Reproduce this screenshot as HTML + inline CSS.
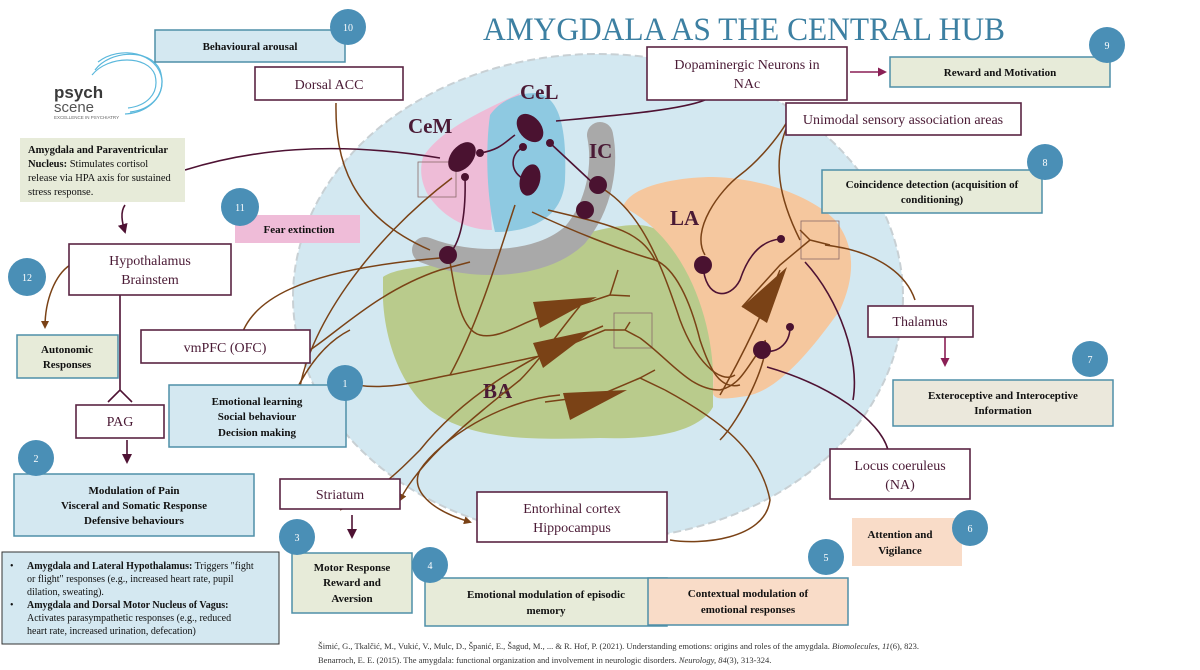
<!DOCTYPE html>
<html><head><meta charset="utf-8"><style>
html,body{margin:0;padding:0;background:#fff;}
svg{display:block;font-family:"Liberation Serif",serif;}
.nb{fill:#fff;stroke:#5a2443;stroke-width:1.6}
.nt{fill:#4a1a35;font-size:14px;text-anchor:middle}
.tb{fill:#d4e8f1;stroke:#4f8fa8;stroke-width:1.5}
.gb{fill:#e7ebd9;stroke:#4f8fa8;stroke-width:1.5}
.bt{fill:#111;font-size:11px;font-weight:bold;text-anchor:middle}
.cc{fill:#4a8fb6}
.ct{fill:#fff;font-size:10px;text-anchor:middle}
.br{fill:none;stroke:#7a4216;stroke-width:1.5}
.mr{fill:none;stroke:#4e1233;stroke-width:1.6}
.dk{fill:#4a1230}
.lb{fill:#4a1a35;font-size:21px;font-weight:bold}
</style></head><body>
<svg width="1200" height="670" viewBox="0 0 1200 670" xmlns="http://www.w3.org/2000/svg">
<defs>
<marker id="ab" markerWidth="8" markerHeight="8" refX="6" refY="4" orient="auto" markerUnits="userSpaceOnUse"><path d="M0,0 L8,4 L0,8 Z" fill="#7a4216"/></marker>
<marker id="am" markerWidth="10" markerHeight="10" refX="8" refY="5" orient="auto" markerUnits="userSpaceOnUse"><path d="M0,0 L10,5 L0,10 Z" fill="#4e1233"/></marker>
<marker id="ap" markerWidth="9" markerHeight="9" refX="7" refY="4.5" orient="auto" markerUnits="userSpaceOnUse"><path d="M0,0 L9,4.5 L0,9 Z" fill="#8a1f55"/></marker>
</defs>

<!-- big ellipse -->
<ellipse cx="598" cy="297" rx="305" ry="243" fill="#d3e8f1" stroke="#c8d0d4" stroke-width="2" stroke-dasharray="8,4"/>

<!-- title -->
<text x="483" y="40" fill="#3d80a2" font-size="33" textLength="522" lengthAdjust="spacingAndGlyphs">AMYGDALA AS THE CENTRAL HUB</text>

<!-- logo -->
<g fill="none" stroke="#5bb8dc" stroke-width="1.2">
<path d="M95,70 C110,50 150,48 160,70 C168,95 150,110 130,112"/>
<path d="M92,75 C108,55 148,55 155,75 C160,95 145,106 128,108"/>
<path d="M98,62 C120,45 158,52 162,80 C163,100 145,113 125,114"/>
</g>
<text x="54" y="98" fill="#3a3a3a" font-family="Liberation Sans,sans-serif" font-weight="bold" font-size="17">psych</text>
<text x="54" y="112" fill="#555" font-family="Liberation Sans,sans-serif" font-size="15">scene</text>
<text x="54" y="119" fill="#666" font-family="Liberation Sans,sans-serif" font-size="4.5">EXCELLENCE IN PSYCHIATRY</text>

<!-- regions -->
<path d="M383,277 C400,265 440,268 520,250 C580,238 600,225 640,225 C690,230 713,300 713,347 L713,407 C700,430 660,440 600,438 C530,440 470,440 430,410 C400,385 385,340 383,300 Z" fill="#b9cb8c"/>
<path d="M623,207 C630,185 680,177 713,177 C760,178 810,195 835,220 C855,245 856,275 840,310 C815,345 780,390 747,396 C720,400 712,400 713,390 C716,330 690,240 623,207 Z" fill="#f5c79e"/>
<path d="M423,157 C440,130 480,112 520,93 C500,140 488,190 492,230 C470,230 445,220 428,195 C420,180 420,168 423,157 Z" fill="#eebcd7"/>
<path d="M490,115 C500,100 520,93 535,93 C560,95 567,130 565,180 C563,215 535,232 495,232 C487,200 485,150 490,115 Z" fill="#8ec9e1"/>
<path d="M425,250 C470,268 540,268 575,235 C600,205 606,165 600,135" fill="none" stroke="#a9a9a9" stroke-width="26" stroke-linecap="round"/>

<!-- region labels -->
<text x="408" y="133" class="lb">CeM</text>
<text x="520" y="99" class="lb">CeL</text>
<text x="589" y="158" class="lb" fill="#4a1a35">IC</text>
<text x="670" y="225" class="lb">LA</text>
<text x="483" y="398" class="lb">BA</text>

<!-- small boxes around synapses -->
<g fill="none" stroke="#8a6a6a" stroke-width="0.8">
<rect x="418" y="162" width="38" height="35"/><rect x="614" y="313" width="38" height="35"/><rect x="801" y="221" width="38" height="38"/>
</g>

<!-- brown connection lines -->
<g class="br">
<path d="M336,103 C335,160 350,215 430,250"/>
<path d="M310,350 C340,330 380,290 440,270 L470,262" marker-start="url(#ab)"/>
<path d="M240,340 C250,300 300,270 440,258"/>
<path d="M298,400 C305,330 370,240 452,178"/>
<path d="M280,430 C290,400 310,350 350,330"/>
<path d="M450,262 C455,290 460,330 480,335 C500,340 525,320 545,316"/>
<path d="M335,380 C380,395 420,380 450,375 C500,365 520,360 545,355"/>
<path d="M450,375 C480,320 500,250 515,205"/>
<path d="M545,316 L580,305 L610,295 M610,295 L618,270 M610,295 L630,296"/>
<path d="M545,355 L605,330 L625,330 M625,330 L630,322 M625,330 L640,338"/>
<path d="M545,402 L600,395 L640,378 M640,378 L655,370 M640,378 L665,390"/>
<path d="M640,338 C670,360 690,390 720,390 C740,385 745,370 760,350"/>
<path d="M532,212 C570,230 620,250 655,260 C675,268 690,300 700,340 C710,370 720,390 740,385"/>
<path d="M548,210 C610,225 640,230 655,260"/>
<path d="M600,187 C640,210 660,260 680,320 C695,360 720,385 735,375"/>
<path d="M665,390 C720,420 760,450 770,500 C765,540 700,545 670,540"/>
<path d="M580,306 C560,330 540,360 520,380 C470,420 420,460 400,500" marker-end="url(#ab)"/>
<path d="M560,395 C500,400 440,440 420,470 C410,490 430,510 470,522" marker-end="url(#ab)"/>
<path d="M603,326 C520,360 460,400 420,450 C395,475 380,490 340,510"/>
<path d="M742,307 L780,265 L810,240 M810,240 L800,230 M810,240 L830,245"/>
<path d="M780,270 C760,320 740,360 720,395"/>
<path d="M765,340 C770,360 740,420 720,440"/>
<path d="M825,245 C870,250 905,270 915,300"/>
<path d="M705,255 C690,230 720,190 740,175 C760,160 780,135 788,120"/>
<path d="M800,240 C780,200 770,160 790,120"/>
<path d="M70,265 C55,275 45,300 45,327" marker-end="url(#ab)"/>
</g>
<!-- triangles -->
<g fill="#7a4216">
<polygon points="533,302 597,297 540,328"/>
<polygon points="533,343 593,330 543,368"/>
<polygon points="563,393 627,390 570,420"/>
<polygon points="742,307 787,267 767,323"/>
</g>

<!-- maroon connections -->
<g class="mr">
<path d="M185,170 C250,150 330,140 440,158"/>
<path d="M125,205 C120,212 122,222 125,232" marker-end="url(#am)"/>
<path d="M120,295 L120,390 M108,402 L120,390 L132,402"/>
<path d="M127,440 L127,462" marker-end="url(#am)"/>
<path d="M352,515 L352,537" marker-end="url(#am)"/>
<path d="M480,153 C500,150 505,142 515,135"/>
<path d="M523,147 C510,155 510,170 522,178"/>
<path d="M550,143 L595,185"/>
<path d="M465,177 C466,210 462,240 450,253"/>
<path d="M703,265 C705,300 730,300 740,280 C750,250 765,240 781,239"/>
<path d="M762,350 C775,355 790,345 790,327"/>
<path d="M556,121 C620,115 680,110 705,100"/>
<path d="M767,367 C830,385 880,420 888,450"/>
<path d="M805,262 C840,300 860,360 853,400"/>
</g>
<path d="M850,72 L885,72" stroke="#8a1f55" stroke-width="1.6" marker-end="url(#ap)"/>
<path d="M945,337 L945,365" stroke="#8a1f55" stroke-width="1.6" marker-end="url(#ap)"/>

<!-- neurons -->
<g class="dk">
<ellipse cx="462" cy="157" rx="11" ry="17" transform="rotate(40 462 157)"/>
<ellipse cx="530" cy="128" rx="11" ry="16" transform="rotate(-40 530 128)"/>
<ellipse cx="530" cy="180" rx="10" ry="16" transform="rotate(15 530 180)"/>
<circle cx="598" cy="185" r="9"/><circle cx="585" cy="210" r="9"/>
<circle cx="448" cy="255" r="9"/><circle cx="703" cy="265" r="9"/><circle cx="762" cy="350" r="9"/>
<circle cx="480" cy="153" r="4"/><circle cx="465" cy="177" r="4"/><circle cx="523" cy="147" r="4"/><circle cx="550" cy="143" r="4"/>
<circle cx="781" cy="239" r="4"/><circle cx="790" cy="327" r="4"/>
</g>

<!-- node boxes -->
<rect x="255" y="67" width="148" height="33" class="nb"/><text x="329" y="89" class="nt">Dorsal ACC</text>
<rect x="647" y="47" width="200" height="53" class="nb"/><text x="747" y="69" class="nt">Dopaminergic Neurons in</text><text x="747" y="88" class="nt">NAc</text>
<rect x="786" y="103" width="235" height="32" class="nb"/><text x="903" y="124" class="nt">Unimodal sensory association areas</text>
<rect x="69" y="244" width="162" height="51" class="nb"/><text x="150" y="265" class="nt">Hypothalamus</text><text x="150" y="284" class="nt">Brainstem</text>
<rect x="141" y="330" width="169" height="33" class="nb"/><text x="225" y="352" class="nt">vmPFC (OFC)</text>
<rect x="868" y="306" width="105" height="31" class="nb"/><text x="920" y="326" class="nt">Thalamus</text>
<rect x="76" y="405" width="88" height="33" class="nb"/><text x="120" y="426" class="nt">PAG</text>
<rect x="830" y="449" width="140" height="50" class="nb"/><text x="900" y="470" class="nt">Locus coeruleus</text><text x="900" y="489" class="nt">(NA)</text>
<rect x="280" y="479" width="120" height="30" class="nb"/><text x="340" y="499" class="nt">Striatum</text>
<rect x="477" y="492" width="190" height="50" class="nb"/><text x="572" y="513" class="nt">Entorhinal cortex</text><text x="572" y="532" class="nt">Hippocampus</text>

<!-- coloured boxes -->
<rect x="155" y="30" width="190" height="32" class="tb"/><text x="250" y="50" class="bt">Behavioural arousal</text>
<rect x="890" y="57" width="220" height="30" class="gb"/><text x="1000" y="76" class="bt">Reward and Motivation</text>
<rect x="20" y="138" width="165" height="64" fill="#e7ebd9"/>
<g font-size="10.5" fill="#111"><text x="28" y="153"><tspan font-weight="bold">Amygdala and Paraventricular</tspan></text>
<text x="28" y="167"><tspan font-weight="bold">Nucleus:</tspan> Stimulates cortisol</text>
<text x="28" y="181">release via HPA axis for sustained</text><text x="28" y="195">stress response.</text></g>
<rect x="822" y="170" width="220" height="43" class="gb"/><text x="932" y="188" class="bt">Coincidence detection (acquisition of</text><text x="932" y="203" class="bt">conditioning)</text>
<rect x="235" y="215" width="125" height="28" fill="#efbcd8"/><text x="299" y="233" class="bt">Fear extinction</text>
<rect x="17" y="335" width="101" height="43" class="gb"/><text x="67" y="353" class="bt">Autonomic</text><text x="67" y="368" class="bt">Responses</text>
<rect x="893" y="380" width="220" height="46" fill="#ebe8dc" stroke="#4f8fa8" stroke-width="1.5"/><text x="1003" y="399" class="bt">Exteroceptive and Interoceptive</text><text x="1003" y="414" class="bt">Information</text>
<rect x="169" y="385" width="177" height="62" class="tb"/><text x="257" y="405" class="bt">Emotional learning</text><text x="257" y="420" class="bt">Social behaviour</text><text x="257" y="436" class="bt">Decision making</text>
<rect x="14" y="474" width="240" height="62" class="tb"/><text x="134" y="494" class="bt">Modulation of Pain</text><text x="134" y="509" class="bt">Visceral and Somatic Response</text><text x="134" y="524" class="bt">Defensive behaviours</text>
<rect x="852" y="518" width="110" height="48" fill="#f9dcc8"/><text x="900" y="538" class="bt">Attention and</text><text x="900" y="554" class="bt">Vigilance</text>
<rect x="292" y="553" width="120" height="60" class="gb"/><text x="352" y="571" class="bt">Motor Response</text><text x="352" y="586" class="bt">Reward and</text><text x="352" y="602" class="bt">Aversion</text>
<rect x="425" y="578" width="242" height="48" class="gb"/><text x="546" y="598" class="bt">Emotional modulation of episodic</text><text x="546" y="614" class="bt">memory</text>
<rect x="648" y="578" width="200" height="47" fill="#f9dcc8" stroke="#4f8fa8" stroke-width="1.5"/><text x="748" y="597" class="bt">Contextual modulation of</text><text x="748" y="613" class="bt">emotional responses</text>
<rect x="2" y="552" width="277" height="92" fill="#d4e8f1" stroke="#333" stroke-width="1"/>
<g font-size="10" fill="#111">
<text x="10" y="569">•</text><text x="27" y="569"><tspan font-weight="bold">Amygdala and Lateral Hypothalamus:</tspan> Triggers "fight</text>
<text x="27" y="582">or flight" responses (e.g., increased heart rate, pupil</text>
<text x="27" y="595">dilation, sweating).</text>
<text x="10" y="608">•</text><text x="27" y="608" font-weight="bold">Amygdala and Dorsal Motor Nucleus of Vagus:</text>
<text x="27" y="621">Activates parasympathetic responses (e.g., reduced</text>
<text x="27" y="634">heart rate, increased urination, defecation)</text></g>

<!-- number circles -->
<g>
<circle cx="348" cy="27" r="18" class="cc"/><text x="348" y="31" class="ct">10</text>
<circle cx="1107" cy="45" r="18" class="cc"/><text x="1107" y="49" class="ct">9</text>
<circle cx="1045" cy="162" r="18" class="cc"/><text x="1045" y="166" class="ct">8</text>
<circle cx="240" cy="207" r="19" class="cc"/><text x="240" y="211" class="ct">11</text>
<circle cx="27" cy="277" r="19" class="cc"/><text x="27" y="281" class="ct">12</text>
<circle cx="1090" cy="359" r="18" class="cc"/><text x="1090" y="363" class="ct">7</text>
<circle cx="345" cy="383" r="18" class="cc"/><text x="345" y="387" class="ct">1</text>
<circle cx="36" cy="458" r="18" class="cc"/><text x="36" y="462" class="ct">2</text>
<circle cx="970" cy="528" r="18" class="cc"/><text x="970" y="532" class="ct">6</text>
<circle cx="297" cy="537" r="18" class="cc"/><text x="297" y="541" class="ct">3</text>
<circle cx="430" cy="565" r="18" class="cc"/><text x="430" y="569" class="ct">4</text>
<circle cx="826" cy="557" r="18" class="cc"/><text x="826" y="561" class="ct">5</text>
</g>

<!-- citations -->
<g font-size="8.5" fill="#333">
<text x="318" y="649">Šimić, G., Tkalčić, M., Vukić, V., Mulc, D., Španić, E., Šagud, M., ... &amp; R. Hof, P. (2021). Understanding emotions: origins and roles of the amygdala. <tspan font-style="italic">Biomolecules, 11</tspan>(6), 823.</text>
<text x="318" y="663">Benarroch, E. E. (2015). The amygdala: functional organization and involvement in neurologic disorders. <tspan font-style="italic">Neurology, 84</tspan>(3), 313-324.</text>
</g>
</svg>
</body></html>
